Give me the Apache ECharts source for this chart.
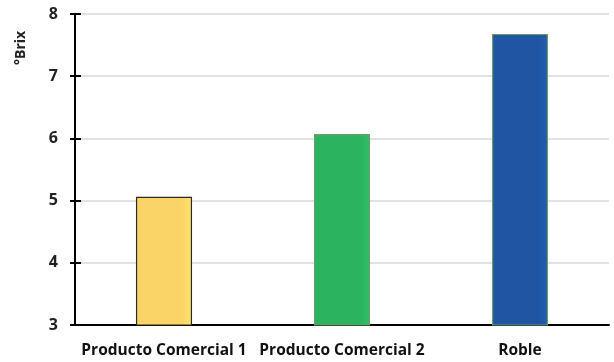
<!DOCTYPE html>
<html>
<head>
<meta charset="utf-8">
<script src="https://cdn.jsdelivr.net/npm/echarts@6/dist/echarts.min.js"></script>
<style>
  html, body { margin: 0; padding: 0; background: #fff; }
  #chart { width: 614px; height: 362px; }
</style>
</head>
<body>
<div id="chart"></div>
<script>
// Soluble solids (°Brix) per sample
const categories = ['Producto Comercial 1', 'Producto Comercial 2', 'Roble'];
const brixValues = [5.06, 6.07, 7.68];
const barColors = ['#FAD466', '#2BB35F', '#1F55A3'];
const barBorders = ['#2a2a2a', '#6f9a6a', '#6f9a6a'];

const FONT = '"Open Sans", "DejaVu Sans", sans-serif';

function shade(color) {
  return new echarts.graphic.LinearGradient(0, 0, 1, 0, [
    { offset: 0, color: color },
    { offset: 0.82, color: color },
    { offset: 1, color: echarts.color.lift(color, -0.08) }
  ]);
}

const chart = echarts.init(document.getElementById('chart'), null, { renderer: 'canvas' });

chart.setOption({
  animation: false,
  grid: { left: 75, right: 5, top: 14, bottom: 37 },
  xAxis: {
    type: 'category',
    data: categories,
    axisLine: { lineStyle: { color: '#000', width: 2 } },
    axisTick: { show: false },
    axisLabel: {
      interval: 0,
      hideOverlap: false,
      margin: 18,
      fontFamily: FONT,
      fontWeight: 'bold',
      fontSize: 15.5,
      color: '#111'
    }
  },
  yAxis: [
    {
      type: 'value',
      min: 3,
      max: 8,
      interval: 1,
      axisLine: { show: true, lineStyle: { color: '#000', width: 2 } },
      axisTick: { show: true, length: 5, lineStyle: { color: '#000', width: 2 } },
      axisLabel: {
        margin: 17,
        fontFamily: FONT,
        fontWeight: 'bold',
        fontSize: 16,
        color: '#222'
      },
      splitLine: { lineStyle: { color: '#d9d9d9', width: 1.5 } }
    },
    {
      type: 'value',
      position: 'left',
      min: 3,
      max: 8,
      interval: 1,
      axisLine: { show: false },
      axisTick: { show: true, inside: true, length: 6, lineStyle: { color: '#000', width: 2 } },
      axisLabel: { show: false },
      splitLine: { show: false }
    }
  ],
  graphic: [
    {
      type: 'text',
      x: 14,
      y: 65,
      rotation: Math.PI / 2,
      style: {
        text: '°Brix',
        fontFamily: FONT,
        fontWeight: 'bold',
        fontSize: 14,
        fill: '#222'
      }
    }
  ],
  series: [
    {
      type: 'bar',
      yAxisIndex: 0,
      barWidth: '31.5%',
      data: brixValues.map((v, i) => ({
        value: v,
        itemStyle: {
          color: shade(barColors[i]),
          borderColor: barBorders[i],
          borderWidth: 1.2
        }
      }))
    }
  ]
});
</script>
</body>
</html>
